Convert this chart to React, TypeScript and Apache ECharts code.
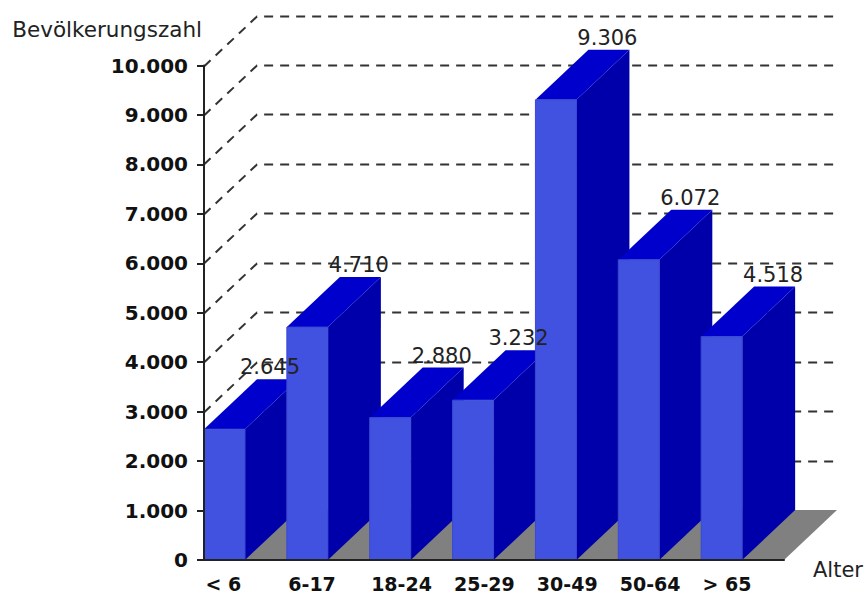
import React, { useEffect, useRef } from "react";
import * as echarts from "echarts";

const categories = ["< 6", "6-17", "18-24", "25-29", "30-49", "50-64", "> 65"];
const population = [2645, 4710, 2880, 3232, 9306, 6072, 4518];
const gridValues = [1000, 2000, 3000, 4000, 5000, 6000, 7000, 8000, 9000, 10000];

const DX = 53;
const DY = 50;
const BAR = 41;
const FRONT = "#4152E0";
const SIDE = "#0000AA";
const TOP = "#0000CC";
const FLOOR = "#808080";
const DASH = "#333333";
const FONT = "'DejaVu Sans', sans-serif";
const LABEL_NUDGE: Record<number, number> = { 0: -6, 3: -6 };

const fmt = (v: number) => String(v).replace(/\B(?=(\d{3})+$)/g, ".");

export default function App() {
  const ref = useRef<HTMLDivElement>(null);
  useEffect(() => {
    document.body.style.margin = "0";
    const chart = echarts.init(ref.current!, undefined, { renderer: "svg" });
    const rich: any = { a: { width: 80, align: "left", lineHeight: 14, fontFamily: FONT, fontWeight: "bold", fontSize: 19, color: "#111" } };
    chart.setOption({
      animation: false,
      backgroundColor: "#fff",
      grid: { left: 204, top: 65.5, width: 580, height: 494.5, outerBoundsMode: "none" },
      xAxis: {
        type: "category",
        data: categories,
        z: 10,
        name: "Alter",
        nameLocation: "end",
        nameGap: 29,
        nameTextStyle: { fontFamily: FONT, fontSize: 21, color: "#222", verticalAlign: "top", lineHeight: 19 },
        axisLine: { lineStyle: { color: "#222", width: 2 } },
        axisTick: { length: 11, lineStyle: { color: "#222", width: 2 } },
        axisLabel: { interval: 0, margin: 17, lineHeight: 14, formatter: (v: string) => `{a|${v}}`, rich },
      },
      yAxis: {
        type: "value",
        min: 0,
        max: 10000,
        interval: 1000,
        z: 10,
        name: "Bevölkerungszahl",
        nameLocation: "end",
        nameGap: 25,
        nameTextStyle: { fontFamily: FONT, fontSize: 21.5, color: "#222", align: "right", padding: [0, 2, 0, 0] },
        axisLine: { show: true, lineStyle: { color: "#222", width: 2 } },
        axisTick: { show: true, length: 7, lineStyle: { color: "#222", width: 2 } },
        splitLine: { show: false },
        axisLabel: { margin: 16, fontFamily: FONT, fontWeight: "bold", fontSize: 20, color: "#111", formatter: (v: number) => fmt(v) },
      },
      series: [
        {
          type: "custom",
          silent: true,
          z: 1,
          coordinateSystem: "cartesian2d",
          data: [[0, 0]],
          renderItem: (params: any, api: any) => {
            const cs = params.coordSys;
            const y0 = api.coord([0, 0])[1];
            return {
              type: "polygon",
              shape: {
                points: [
                  [cs.x, y0],
                  [cs.x + cs.width, y0],
                  [cs.x + cs.width + DX, y0 - DY],
                  [cs.x + DX, y0 - DY],
                ],
              },
              style: { fill: FLOOR },
            };
          },
        },
        {
          type: "custom",
          silent: true,
          z: 1,
          coordinateSystem: "cartesian2d",
          data: gridValues.map((v) => [0, v]),
          encode: { x: 0, y: 1 },
          renderItem: (params: any, api: any) => {
            const cs = params.coordSys;
            const y = Math.round(api.coord([0, api.value(1)])[1]) + 0.5;
            const style = { stroke: DASH, lineWidth: 2, lineDash: [9, 7], fill: "none" };
            return {
              type: "polyline",
              shape: {
                points: [
                  [cs.x, y],
                  [cs.x + DX, y - DY],
                  [cs.x + cs.width + DX - 2, y - DY],
                ],
              },
              style,
            };
          },
        },
        {
          type: "custom",
          silent: true,
          z: 2,
          coordinateSystem: "cartesian2d",
          data: population.map((v, i) => [i, v]),
          encode: { x: 0, y: 1 },
          renderItem: (params: any, api: any) => {
            const i = api.value(0);
            const v = api.value(1);
            const band = api.size([1, 0])[0];
            const x = api.coord([i, 0])[0] - band / 2;
            const y0 = api.coord([i, 0])[1];
            const y1 = api.coord([i, v])[1];
            return {
              type: "group",
              children: [
                {
                  type: "polygon",
                  shape: { points: [[x + BAR, y1], [x + BAR + DX, y1 - DY], [x + BAR + DX, y0 - DY], [x + BAR, y0]] },
                  style: { fill: SIDE },
                },
                {
                  type: "polygon",
                  shape: { points: [[x, y1], [x + DX, y1 - DY], [x + BAR + DX, y1 - DY], [x + BAR, y1]] },
                  style: { fill: TOP },
                },
                {
                  type: "rect",
                  shape: { x, y: y1, width: BAR, height: y0 - y1 },
                  style: { fill: FRONT, stroke: "#3A49D0", lineWidth: 1 },
                },
              ],
            };
          },
        },
        {
          type: "custom",
          silent: true,
          z: 20,
          coordinateSystem: "cartesian2d",
          data: population.map((v, i) => [i, v]),
          encode: { x: 0, y: 1 },
          renderItem: (params: any, api: any) => {
            const i = api.value(0);
            const v = api.value(1);
            const band = api.size([1, 0])[0];
            const x = api.coord([i, 0])[0] - band / 2;
            const y1 = api.coord([i, v])[1];
            return {
              type: "text",
              style: {
                x: x + 72 + (LABEL_NUDGE[i] || 0),
                y: y1 - DY - 12,
                text: fmt(v),
                align: "center",
                verticalAlign: "middle",
                fontFamily: FONT,
                fontSize: 21,
                fill: "#222",
              },
            };
          },
        },
      ],
    });
    return () => chart.dispose();
  }, []);
  return <div ref={ref} style={{ width: 868, height: 594 }} />;
}
